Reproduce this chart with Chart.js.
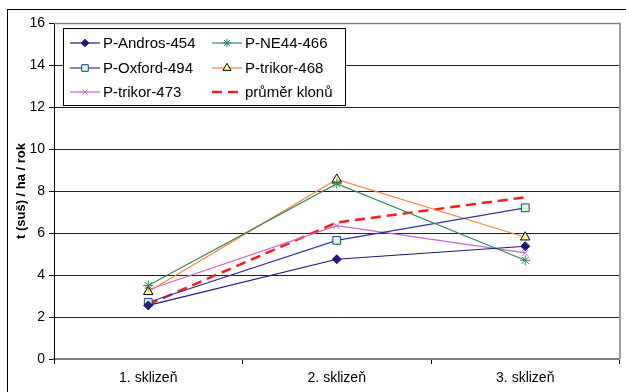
<!DOCTYPE html>
<html>
<head>
<meta charset="utf-8">
<script src="https://cdn.jsdelivr.net/npm/chart.js@4.4.1/dist/chart.umd.min.js"></script>
<style>
  html, body { margin: 0; padding: 0; background: #fff; }
  #wrap { width: 626px; height: 392px; }
</style>
</head>
<body>
<div id="wrap"><canvas id="chart" width="626" height="392"></canvas></div>
<script>
const harvests = ['1. sklizeň', '2. sklizeň', '3. sklizeň'];
const andros454 = [2.55, 4.75, 5.37];
const ne44466 = [3.5, 8.35, 4.7];
const oxford494 = [2.7, 5.65, 7.2];
const trikor468 = [3.2, 8.55, 5.8];
const trikor473 = [3.3, 6.35, 5.05];
const prumerKlonu = [2.6, 6.5, 7.7];
const yTicks = [0, 2, 4, 6, 8, 10, 12, 14, 16];

const FONT = "'Liberation Sans', Arial, sans-serif";

function series(label, data, color, style, fill, border, radius) {
    return {
        label: label,
        data: data,
        borderColor: color,
        borderWidth: 1.2,
        pointStyle: style,
        pointRadius: radius,
        pointBackgroundColor: fill,
        pointBorderColor: border,
        pointBorderWidth: 1,
        tension: 0
    };
}

const datasets = [
    series('P-Andros-454', andros454, '#1a1a80', 'rectRot', '#1a1a80', '#1a1a80', 4.5),
    series('P-NE44-466', ne44466, '#2e8b57', 'star', '#2e8b57', '#2e8b57', 5),
    series('P-Oxford-494', oxford494, '#333399', 'rect', '#ccffcc', '#333399', 5.5),
    series('P-trikor-468', trikor468, '#ff8040', 'triangle', '#ffff99', '#000000', 5.5),
    series('P-trikor-473', trikor473, '#cc66cc', 'crossRot', '#cc66cc', '#cc66cc', 4.5),
    {
        label: 'průměr klonů',
        data: prumerKlonu,
        borderColor: '#ff1a1a',
        borderWidth: 2.5,
        borderDash: [10, 6],
        pointRadius: 0,
        pointStyle: false,
        tension: 0
    }
];

// frame round the whole chart and grey border of the plot area
const framePlugin = {
    id: 'frame',
    beforeDraw(chart) {
        const c = chart.ctx;
        c.save();
        c.fillStyle = '#fff';
        c.fillRect(0, 0, chart.width, chart.height);
        c.strokeStyle = '#000';
        c.lineWidth = 1;
        c.strokeRect(7.5, 9.5, chart.width + 20, chart.height + 20);
        c.restore();
    },
    afterDatasetsDraw(chart) {
        const a = chart.chartArea;
        const c = chart.ctx;
        c.save();
        c.strokeStyle = '#808080';
        c.lineWidth = 1.5;
        c.beginPath();
        c.moveTo(a.left, a.top + 0.5);
        c.lineTo(a.right + 0.5, a.top + 0.5);
        c.lineTo(a.right + 0.5, a.bottom);
        c.stroke();
        c.restore();
    }
};

// two-column boxed legend inside the plot area
const boxLegend = {
    id: 'boxLegend',
    afterDraw(chart) {
        const c = chart.ctx;
        const bx = 63.5, by = 28.5, bw = 282, bh = 77;
        c.save();
        c.fillStyle = '#fff';
        c.fillRect(bx, by, bw, bh);
        c.strokeStyle = '#000';
        c.lineWidth = 1;
        c.strokeRect(bx, by, bw, bh);
        const cols = [70, 212];
        const rows = [43, 68, 92];
        c.font = '15px ' + FONT;
        c.textBaseline = 'middle';
        chart.data.datasets.forEach((ds, i) => {
            const x = cols[i % 2];
            const y = rows[Math.floor(i / 2)];
            c.save();
            c.strokeStyle = ds.borderColor;
            c.lineWidth = ds.borderWidth;
            if (ds.borderDash) c.setLineDash(ds.borderDash);
            c.beginPath();
            c.moveTo(x, y);
            c.lineTo(x + 30, y);
            c.stroke();
            c.restore();
            if (ds.pointStyle) {
                c.save();
                c.fillStyle = ds.pointBackgroundColor;
                c.strokeStyle = ds.pointBorderColor;
                c.lineWidth = 1;
                Chart.helpers.drawPoint(c, {
                    pointStyle: ds.pointStyle,
                    radius: ds.pointRadius * 0.85,
                    rotation: 0,
                    borderWidth: 1
                }, x + 15, y);
                c.restore();
            }
            c.fillStyle = '#000';
            c.fillText(ds.label, x + 33, y + 1);
        });
        c.restore();
    }
};

new Chart(document.getElementById('chart'), {
    type: 'line',
    data: { labels: harvests, datasets: datasets },
    options: {
        responsive: false,
        animation: false,
        layout: { padding: { left: 7, top: 23, right: 4, bottom: 0 } },
        plugins: {
            legend: { display: false },
            tooltip: { enabled: false }
        },
        scales: {
            x: {
                offset: true,
                grid: {
                    offset: true,
                    drawOnChartArea: false,
                    drawTicks: true,
                    tickLength: 5,
                    color: '#000'
                },
                border: { color: '#808080', width: 2 },
                ticks: {
                    color: '#000',
                    padding: 6,
                    font: { family: FONT, size: 14 }
                },
                afterFit(scale) { scale.height = 33; }
            },
            y: {
                min: 0,
                max: 16,
                afterBuildTicks(scale) {
                    scale.ticks = yTicks.map(v => ({ value: v }));
                },
                grid: {
                    color: '#222',
                    lineWidth: 1,
                    tickLength: 5,
                    tickColor: '#000'
                },
                border: { color: '#000', width: 1 },
                ticks: {
                    color: '#000',
                    padding: 4,
                    font: { family: FONT, size: 14 }
                },
                title: {
                    display: true,
                    text: 't (suš) / ha / rok',
                    color: '#000',
                    padding: { top: 7, bottom: 4 },
                    font: { family: FONT, size: 13, weight: 'bold' }
                },
                afterFit(scale) { scale.width = 47; }
            }
        }
    },
    plugins: [framePlugin, boxLegend]
});
</script>
</body>
</html>
